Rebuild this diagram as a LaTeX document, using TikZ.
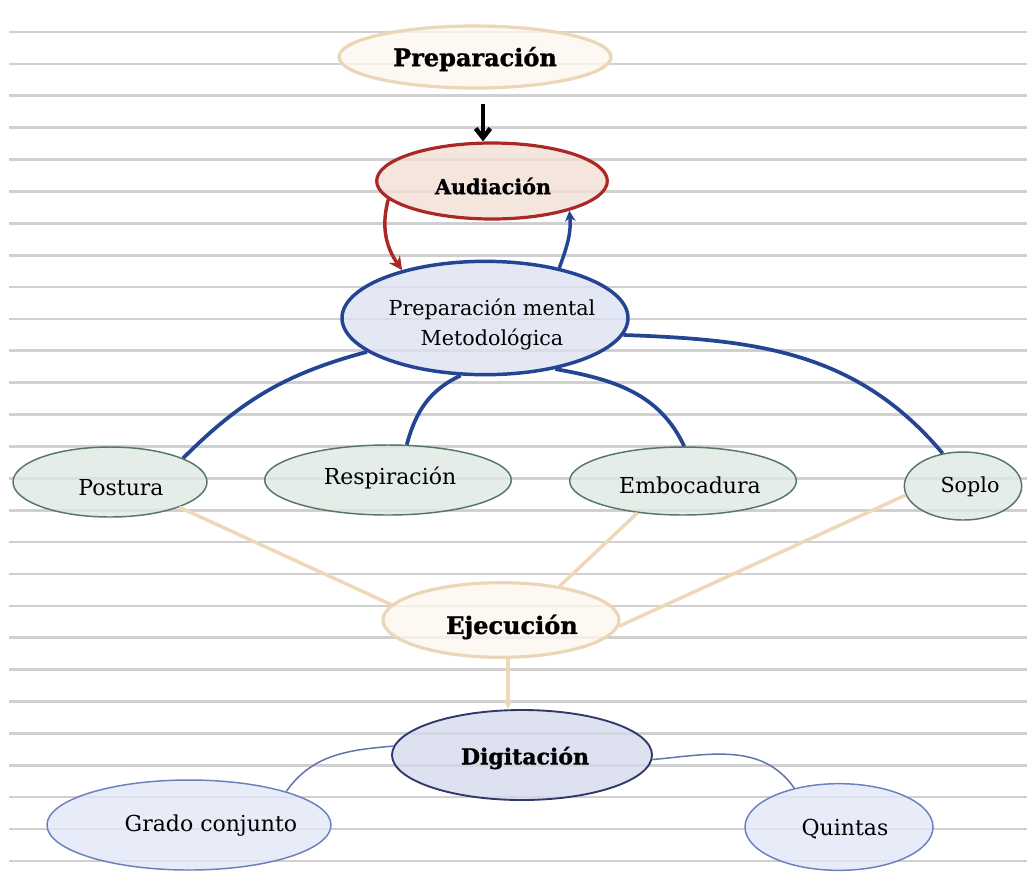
\documentclass[tikz,border=0pt]{standalone}
\usepackage{fontspec}
\setmainfont{DejaVu Serif}
\newfontfamily\heavyfont[FakeBold=1.2]{DejaVu Serif Bold}
\usetikzlibrary{arrows.meta,shapes.geometric}
\definecolor{ruleg}{RGB}{208,208,208}
\definecolor{creamf}{RGB}{253,247,238}
\definecolor{tanb}{RGB}{236,214,184}
\definecolor{pinkf}{RGB}{242,222,212}
\definecolor{redb}{RGB}{172,40,38}
\definecolor{lavf}{RGB}{221,225,241}
\definecolor{blueb}{RGB}{36,68,148}
\definecolor{greenf}{RGB}{222,233,227}
\definecolor{greenb}{RGB}{88,118,104}
\definecolor{digf}{RGB}{212,217,236}
\definecolor{digb}{RGB}{46,56,106}
\definecolor{paleb}{RGB}{226,231,248}
\definecolor{palebb}{RGB}{108,128,190}
\definecolor{tanl}{RGB}{238,216,184}
\tikzset{
  ell/.style={ellipse, inner sep=0pt, fill opacity=0.78},
  txt/.style={inner sep=0pt, align=center, text=black},
  boldtxt/.style={txt, font=\heavyfont\fontsize{17}{20}\selectfont},
  regtxt/.style={txt, font=\fontsize{16.5}{22.5}\selectfont},
  tanbox/.style={ell, fill=creamf, draw=tanb, line width=2.4pt},
  greenbox/.style={ell, fill=greenf, draw=greenb, line width=1.1pt},
  palebox/.style={ell, fill=paleb, draw=palebb, line width=1.1pt},
  bluelink/.style={draw=blueb, line width=2.8pt},
  tanlink/.style={draw=tanl, line width=2.6pt},
  thinlink/.style={draw=palebb!90!black, line width=1.1pt},
}
\begin{document}
\begin{tikzpicture}[x=0.75pt,y=-0.75pt]
\useasboundingbox (0,0) rectangle (1027,886);
\fill[white] (0,0) rectangle (1027,886);
% ruled lines
\foreach \i in {0,...,26}{
  \draw[ruleg, line width=2pt] (9,{32+\i*31.88}) -- (1027,{32+\i*31.88});
}
% ellipses
\node[tanbox, minimum width=204pt, minimum height=46.5pt] (prep) at (475,57) {};
\node[ell, fill=pinkf, draw=redb, line width=2.4pt, minimum width=173pt, minimum height=57pt] (aud) at (492,181) {};
\node[ell, fill=lavf, draw=blueb, line width=2.6pt, minimum width=214.5pt, minimum height=85pt] (meto) at (485,318) {};
\node[greenbox, minimum width=145.5pt, minimum height=52.5pt] (post) at (110,482) {};
\node[greenbox, minimum width=185pt, minimum height=52.5pt] (resp) at (388,480) {};
\node[greenbox, minimum width=170pt, minimum height=51pt] (emb) at (683,481) {};
\node[greenbox, minimum width=88pt, minimum height=51pt] (sop) at (963,486) {};
\node[tanbox, minimum width=177pt, minimum height=56pt] (ejec) at (501,620) {};
\node[ell, fill=digf, draw=digb, line width=1.4pt, minimum width=195pt, minimum height=67.5pt] (dig) at (522,755) {};
\node[palebox, minimum width=213pt, minimum height=67.5pt] (grad) at (189,825) {};
\node[palebox, minimum width=141pt, minimum height=65pt] (quin) at (839,827) {};
% texts
\node[boldtxt, font=\heavyfont\fontsize{18}{20}\selectfont] (tprep) at (475,59) {Preparación};
\node[boldtxt, font=\heavyfont\fontsize{15.5}{18}\selectfont] (taud) at (493,186) {Audiación};
\node[regtxt, font=\fontsize{15.5}{22.5}\selectfont] (tmeto) at (492,325) {Preparación mental\\Metodológica};
\node[regtxt] (tpost) at (121,488) {Postura};
\node[regtxt] (tresp) at (390,478) {Respiración};
\node[regtxt] (temb) at (690,485) {Embocadura};
\node[regtxt, font=\fontsize{15.5}{20}\selectfont] (tsop) at (970,487) {Soplo};
\node[boldtxt, font=\heavyfont\fontsize{18}{20}\selectfont] (tejec) at (512,627) {Ejecución};
\node[boldtxt, font=\heavyfont\fontsize{16.5}{20}\selectfont] (tdig) at (525,758) {Digitación};
\node[regtxt] (tgrad) at (211,826) {Grado conjunto};
\node[regtxt] (tquin) at (845,829) {Quintas};
% connectors
\coordinate (bx) at (483,0);
\draw[line width=3.4pt, black, shorten <=11pt, -{Straight Barb[length=7pt,width=11pt]}] (prep.south -| bx) -- (aud.north -| bx);
\draw[redb, line width=2.6pt, -{Stealth[length=10pt,width=10pt]}] (aud.190.8) to[out=255, in=125] (meto.150);
\draw[blueb, line width=2.6pt, -{Stealth[length=8pt,width=8pt]}] (meto.34) to[out=70, in=-85] (aud.-21);
\draw[bluelink] (meto.196) to[out=195, in=45] (post.18);
\draw[bluelink] (meto.247) to[out=205, in=75] (resp.62);
\draw[bluelink] (meto.324) to[out=-10, in=115] (emb.88);
\draw[bluelink] (meto.-7) to[out=-2, in=130] (sop.122);
\draw[tanlink] (post.-20) -- (ejec.172);
\draw[tanlink] (emb.215) -- (ejec.30);
\draw[tanlink] (sop.189) -- (ejec.-3);
\coordinate (ax) at (508,0);
\draw[tanl, line width=2.4pt, -{Stealth[length=7pt,width=7pt]}] (ejec.south -| ax) -- (dig.north -| ax);
\draw[thinlink] (dig.176) to[out=185, in=55] (grad.19);
\draw[thinlink] (dig.-2) to[out=5, in=125] (quin.139);
\end{tikzpicture}
\end{document}
